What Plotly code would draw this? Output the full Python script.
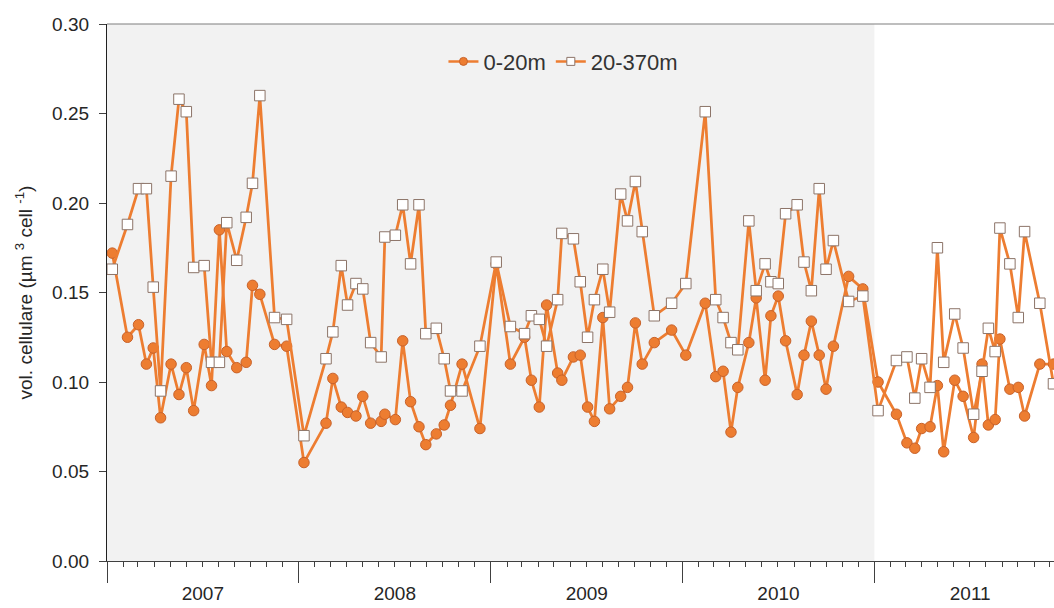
import plotly.graph_objects as go

# Sampling dates (about 20 campaigns per year, 2007-2011)
dates = [
    "2007-01-11", "2007-02-09", "2007-03-02", "2007-03-17", "2007-03-30",
    "2007-04-13", "2007-05-03", "2007-05-18", "2007-06-01", "2007-06-15",
    "2007-07-05", "2007-07-19", "2007-08-03", "2007-08-17", "2007-09-05",
    "2007-09-23", "2007-10-05", "2007-10-19", "2007-11-16", "2007-12-09",
    "2008-01-11", "2008-02-22", "2008-03-06", "2008-03-22", "2008-04-03",
    "2008-04-19", "2008-05-02", "2008-05-17", "2008-06-06", "2008-06-13",
    "2008-07-03", "2008-07-17", "2008-08-01", "2008-08-17", "2008-08-30",
    "2008-09-19", "2008-10-04", "2008-10-16", "2008-11-07", "2008-12-11",
    "2009-01-11", "2009-02-07", "2009-03-06", "2009-03-19", "2009-04-03",
    "2009-04-17", "2009-05-08", "2009-05-16", "2009-06-07", "2009-06-20",
    "2009-07-04", "2009-07-17", "2009-08-02", "2009-08-15", "2009-09-05",
    "2009-09-18", "2009-10-03", "2009-10-16", "2009-11-08", "2009-12-11",
    "2010-01-07", "2010-02-13", "2010-03-05", "2010-03-19", "2010-04-03",
    "2010-04-16", "2010-05-07", "2010-05-21", "2010-06-07", "2010-06-18",
    "2010-07-02", "2010-07-16", "2010-08-07", "2010-08-20", "2010-09-03",
    "2010-09-18", "2010-10-01", "2010-10-15", "2010-11-13", "2010-12-10",
    "2011-01-08", "2011-02-12", "2011-03-04", "2011-03-19", "2011-04-01",
    "2011-04-17", "2011-05-01", "2011-05-13", "2011-06-03", "2011-06-19",
    "2011-07-09", "2011-07-25", "2011-08-06", "2011-08-19", "2011-08-28",
    "2011-09-16", "2011-10-02", "2011-10-14", "2011-11-12", "2011-12-08",
]

# Mean cell volume, surface layer 0-20 m
vol_0_20 = [
    0.172, 0.125, 0.132, 0.110, 0.119, 0.080, 0.110, 0.093, 0.108, 0.084,
    0.121, 0.098, 0.185, 0.117, 0.108, 0.111, 0.154, 0.149, 0.121, 0.120,
    0.055, 0.077, 0.102, 0.086, 0.083, 0.081, 0.092, 0.077, 0.078, 0.082,
    0.079, 0.123, 0.089, 0.075, 0.065, 0.071, 0.076, 0.087, 0.110, 0.074,
    0.166, 0.110, 0.125, 0.101, 0.086, 0.143, 0.105, 0.101, 0.114, 0.115,
    0.086, 0.078, 0.136, 0.085, 0.092, 0.097, 0.133, 0.110, 0.122, 0.129,
    0.115, 0.144, 0.103, 0.106, 0.072, 0.097, 0.122, 0.147, 0.101, 0.137,
    0.148, 0.123, 0.093, 0.115, 0.134, 0.115, 0.096, 0.120, 0.159, 0.152,
    0.100, 0.082, 0.066, 0.063, 0.074, 0.075, 0.098, 0.061, 0.101, 0.092,
    0.069, 0.110, 0.076, 0.079, 0.124, 0.096, 0.097, 0.081, 0.110, 0.110,
]

# Mean cell volume, deep layer 20-370 m
vol_20_370 = [
    0.163, 0.188, 0.208, 0.208, 0.153, 0.095, 0.215, 0.258, 0.251, 0.164,
    0.165, 0.111, 0.111, 0.189, 0.168, 0.192, 0.211, 0.260, 0.136, 0.135,
    0.070, 0.113, 0.128, 0.165, 0.143, 0.155, 0.152, 0.122, 0.114, 0.181,
    0.182, 0.199, 0.166, 0.199, 0.127, 0.130, 0.113, 0.095, 0.095, 0.120,
    0.167, 0.131, 0.127, 0.137, 0.135, 0.120, 0.146, 0.183, 0.180, 0.156,
    0.125, 0.146, 0.163, 0.139, 0.205, 0.190, 0.212, 0.184, 0.137, 0.144,
    0.155, 0.251, 0.146, 0.136, 0.122, 0.118, 0.190, 0.151, 0.166, 0.156,
    0.155, 0.194, 0.199, 0.167, 0.151, 0.208, 0.163, 0.179, 0.145, 0.148,
    0.084, 0.112, 0.114, 0.091, 0.113, 0.097, 0.175, 0.111, 0.138, 0.119,
    0.082, 0.106, 0.130, 0.117, 0.186, 0.166, 0.136, 0.184, 0.144, 0.099,
]

series_names = ["0-20m", "20-370m"]
shade_start = "2007-01-01"
shade_end = "2011-01-01"
x_range = ["2007-01-01", "2011-12-09"]
y_ticks = [0.0, 0.05, 0.10, 0.15, 0.20, 0.25, 0.30]

ORANGE = "#ED7D31"
FONT = "Liberation Sans, Arial, sans-serif"

circle_marker = dict(symbol="circle", size=10.5, color=ORANGE,
                     line=dict(color="#C8622A", width=1))
square_marker = dict(symbol="square", size=10.5, color="#FFFFFF",
                     line=dict(color="#8C7468", width=1))

fig = go.Figure()

fig.add_trace(go.Scatter(
    x=dates, y=vol_0_20, mode="lines+markers", name=series_names[0],
    line=dict(color=ORANGE, width=2.75), marker=circle_marker,
    showlegend=False,
))
fig.add_trace(go.Scatter(
    x=dates, y=vol_20_370, mode="lines+markers", name=series_names[1],
    line=dict(color=ORANGE, width=2.75), marker=square_marker,
    showlegend=False,
))

# Legend entries with smaller symbols
fig.add_trace(go.Scatter(
    x=[None], y=[None], mode="lines+markers", name=series_names[0],
    line=dict(color=ORANGE, width=2.5),
    marker=dict(symbol="circle", size=8, color=ORANGE,
                line=dict(color="#C8622A", width=1)),
))
fig.add_trace(go.Scatter(
    x=[None], y=[None], mode="lines+markers", name=series_names[1],
    line=dict(color=ORANGE, width=2.5),
    marker=dict(symbol="square", size=8, color="#FFFFFF",
                line=dict(color="#8C7468", width=1)),
))

# Shaded period 2007-2010
fig.add_shape(type="rect", xref="x", yref="paper",
              x0=shade_start, x1=shade_end, y0=0, y1=1,
              fillcolor="#F2F2F2", line=dict(width=0), layer="below")
# Top frame line
fig.add_shape(type="line", xref="paper", yref="paper",
              x0=0, x1=1, y0=1, y1=1,
              line=dict(color="#7F7F7F", width=1.2))

fig.update_layout(
    width=1054, height=608,
    margin=dict(l=107, r=0, t=24, b=47, autoexpand=False),
    paper_bgcolor="white", plot_bgcolor="white",
    font=dict(family=FONT, color="#262626"),
    legend=dict(orientation="h", x=0.482, xanchor="center",
                y=0.93, yanchor="middle", bgcolor="rgba(0,0,0,0)",
                font=dict(size=22, color="#333333"),
                itemwidth=30, tracegroupgap=0),
    xaxis=dict(
        type="date", range=x_range, automargin=False,
        showgrid=False, zeroline=False,
        showline=True, linecolor="#404040", linewidth=1.2,
        dtick="M12", tick0="2007-01-01", tickformat="%Y",
        ticklabelmode="period",
        ticks="outside", ticklen=21, tickwidth=1.2, tickcolor="#404040",
        tickfont=dict(size=19, color="#262626"),
        ticklabelstandoff=-6,
        minor=dict(dtick="M1", ticks="outside", ticklen=5,
                   tickwidth=1, tickcolor="#404040", showgrid=False),
    ),
    yaxis=dict(
        range=[0, 0.30], tickvals=y_ticks, tickformat=".2f",
        automargin=False,
        showgrid=False, zeroline=False,
        showline=True, linecolor="#202020", linewidth=1.2,
        ticks="outside", ticklen=7, tickwidth=1.2, tickcolor="#404040",
        tickfont=dict(size=19, color="#262626"),
        ticklabelstandoff=6,
        title=dict(text="vol. cellulare (µm <sup>3</sup> cell <sup>-1</sup>)",
                   font=dict(size=19, color="#262626"), standoff=14),
    ),
)

fig.write_html("out.html")
